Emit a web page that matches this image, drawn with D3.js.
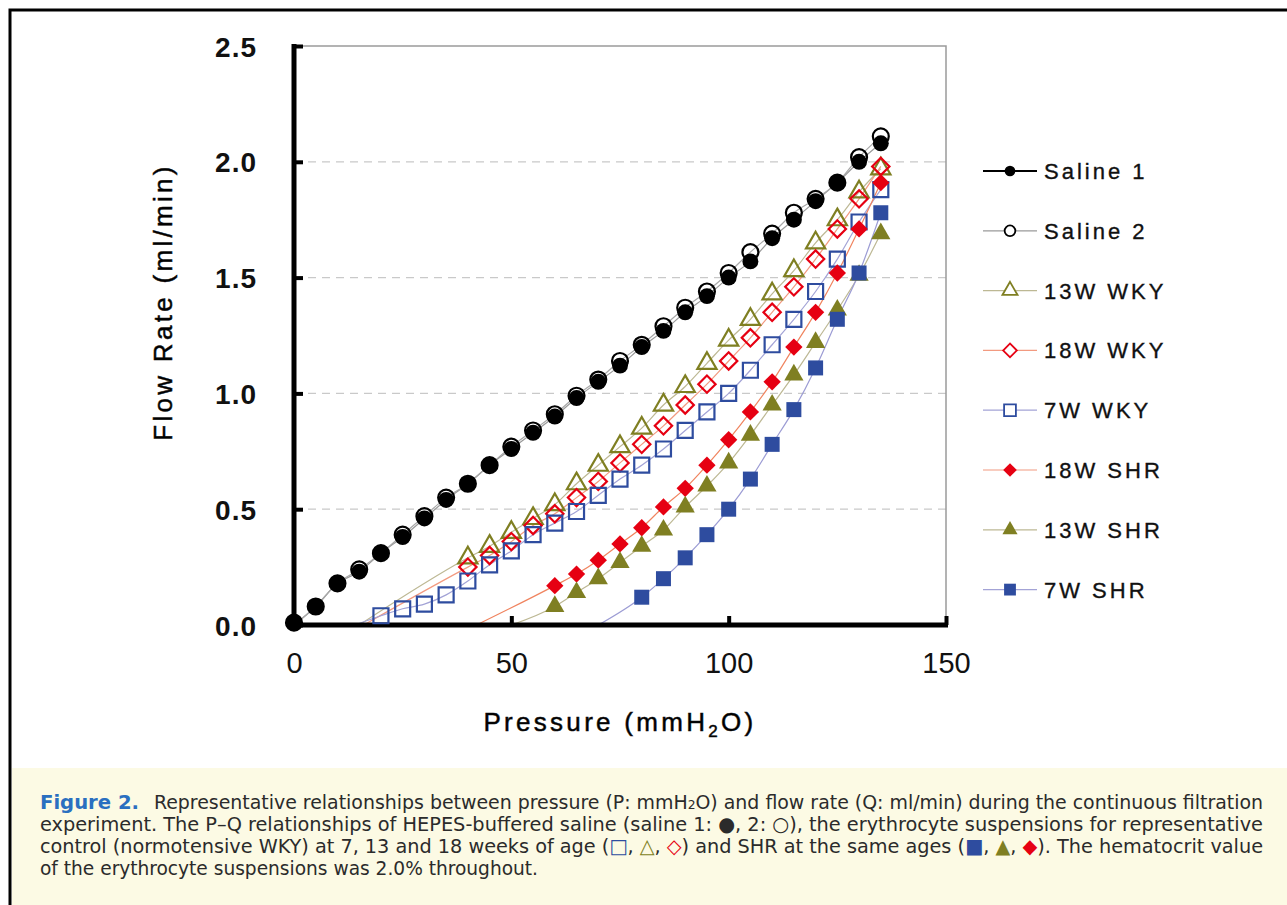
<!DOCTYPE html>
<html>
<head>
<meta charset="utf-8">
<script src="https://cdn.jsdelivr.net/npm/d3@7"></script>
<style>
  body { margin: 0; background: #fff; }
  svg { display: block; }
  .tick-y { font: bold 28px "Liberation Sans", Arial, sans-serif; letter-spacing: 1px; }
  .tick-x { font: 29px "Liberation Sans", Arial, sans-serif; }
  .axis-title { font: 26px "Liberation Sans", Arial, sans-serif; letter-spacing: 3.3px; stroke: #111; stroke-width: 0.5px; }
  .legend-text { font: 22px "Liberation Sans", Arial, sans-serif; letter-spacing: 3px; stroke: #111; stroke-width: 0.35px; }
  .caption { font: 20px "DejaVu Sans Condensed", "Liberation Sans Narrow", sans-serif; fill: #2b2b2b; }
</style>
</head>
<body>
<div id="chart"></div>
<script>
  const pressure = [0, 5, 10, 15, 20, 25, 30, 35, 40, 45, 50, 55, 60, 65, 70, 75, 80, 85, 90, 95, 100, 105, 110, 115, 120, 125, 130, 135];

  // flow rate, one value per pressure step starting at firstPressure
  const saline1 = [0.01, 0.08, 0.18, 0.23, 0.31, 0.38, 0.46, 0.54, 0.61, 0.69, 0.76, 0.83, 0.90, 0.98, 1.05, 1.12, 1.20, 1.27, 1.35, 1.42, 1.50, 1.57, 1.67, 1.75, 1.83, 1.91, 2.00, 2.08];
  const saline2 = [0.01, 0.08, 0.18, 0.24, 0.31, 0.39, 0.47, 0.55, 0.61, 0.69, 0.77, 0.84, 0.91, 0.99, 1.06, 1.14, 1.21, 1.29, 1.37, 1.44, 1.52, 1.61, 1.69, 1.78, 1.84, 1.91, 2.02, 2.11];
  const wky13 = [0.29, 0.34, 0.40, 0.46, 0.52, 0.61, 0.69, 0.77, 0.85, 0.95, 1.03, 1.13, 1.23, 1.32, 1.43, 1.53, 1.65, 1.75, 1.87, 1.97];
  const wky18 = [0.25, 0.30, 0.36, 0.43, 0.48, 0.55, 0.62, 0.70, 0.78, 0.86, 0.95, 1.04, 1.14, 1.24, 1.35, 1.46, 1.58, 1.71, 1.84, 1.98];
  const wky7 = [0.04, 0.07, 0.09, 0.13, 0.19, 0.26, 0.32, 0.39, 0.44, 0.49, 0.56, 0.63, 0.69, 0.76, 0.84, 0.92, 1.00, 1.10, 1.21, 1.32, 1.44, 1.58, 1.74, 1.88];
  const shr18 = [0.17, 0.22, 0.28, 0.35, 0.42, 0.51, 0.59, 0.69, 0.80, 0.92, 1.05, 1.20, 1.35, 1.52, 1.71, 1.91];
  const shr13 = [0.08, 0.14, 0.20, 0.27, 0.34, 0.41, 0.51, 0.60, 0.70, 0.82, 0.95, 1.08, 1.22, 1.36, 1.51, 1.69];
  const shr7 = [0.12, 0.20, 0.29, 0.39, 0.50, 0.63, 0.78, 0.93, 1.11, 1.32, 1.52, 1.78];

  const seriesNames = ["Saline 1", "Saline 2", "13W WKY", "18W WKY", "7W WKY", "18W SHR", "13W SHR", "7W SHR"];
  const seriesValues = [saline1, saline2, wky13, wky18, wky7, shr18, shr13, shr7];
  const firstPressure = [0, 0, 40, 40, 20, 60, 60, 80];
  // pressure where each recorded curve leaves the x axis
  const curveStart = [0, 0, 15, 16, 14, 42, 50, 70];

  const xTicks = [0, 50, 100, 150];
  const yTicks = [0, 0.5, 1.0, 1.5, 2.0, 2.5];

  const olive = "#7f7f22";
  const red = "#e60012";
  const blue = "#2e4c9f";
  const styles = [
    { shape: "circle", color: "#000", filled: true, line: "#9a9a9a", legendLine: "#000" },
    { shape: "circle", color: "#000", filled: false, line: "#a8a8a8", legendLine: "#9a9a9a" },
    { shape: "triangle", color: olive, filled: false, line: "#bdb894", legendLine: "#bdb894" },
    { shape: "diamond", color: red, filled: false, line: "#f29a80", legendLine: "#f29a80" },
    { shape: "square", color: blue, filled: false, line: "#a3a3d6", legendLine: "#a3a3d6" },
    { shape: "diamond", color: red, filled: true, line: "#f0845f", legendLine: "#f29a80" },
    { shape: "triangle", color: olive, filled: true, line: "#bdb894", legendLine: "#bdb894" },
    { shape: "square", color: blue, filled: true, line: "#9c9cd4", legendLine: "#a3a3d6" }
  ];

  const width = 1287;
  const height = 905;
  const plot = { left: 294, right: 946, top: 46, bottom: 625 };

  const x = d3.scaleLinear().domain([0, 150]).range([plot.left, plot.right]);
  const y = d3.scaleLinear().domain([0, 2.5]).range([plot.bottom, plot.top]);

  const series = seriesNames.map((name, i) => {
    const start = pressure.indexOf(firstPressure[i]);
    const points = seriesValues[i].map((v, j) => ({ p: pressure[start + j], q: v }));
    return { name, points, style: styles[i], curveStart: curveStart[i] };
  });

  const symbolType = { circle: d3.symbolCircle, square: d3.symbolSquare, triangle: d3.symbolTriangle, diamond: d3.symbolSquare };
  const symbolSize = { circle: 200, square: 225, triangle: 160, diamond: 150 };

  function symbolPath(shape, scale) {
    return d3.symbol().type(symbolType[shape]).size(symbolSize[shape] * scale)();
  }

  const svg = d3.select("#chart").append("svg")
    .attr("width", width)
    .attr("height", height);

  svg.append("rect").attr("width", width).attr("height", height).attr("fill", "#fff");

  // caption panel
  svg.append("rect")
    .attr("x", 12).attr("y", 768)
    .attr("width", width - 12).attr("height", height - 768)
    .attr("fill", "#fcfae4");

  svg.append("path")
    .attr("d", `M10,${height} V10 H${width}`)
    .attr("fill", "none")
    .attr("stroke", "#000")
    .attr("stroke-width", 3);

  // grid
  svg.append("g").selectAll("line")
    .data(yTicks.filter((t) => t > 0 && t < 2.5))
    .join("line")
    .attr("x1", plot.left).attr("x2", plot.right)
    .attr("y1", (d) => y(d)).attr("y2", (d) => y(d))
    .attr("stroke", "#c9c9c9")
    .attr("stroke-width", 1.3)
    .attr("stroke-dasharray", "8,6");

  // top and right frame
  svg.append("path")
    .attr("d", `M${plot.left},${plot.top} H${plot.right} V${plot.bottom}`)
    .attr("fill", "none")
    .attr("stroke", "#9a9a9a")
    .attr("stroke-width", 1.5);

  // recorded curves
  const line = d3.line()
    .x((d) => x(d.p))
    .y((d) => y(d.q))
    .curve(d3.curveMonotoneX);

  svg.append("g").selectAll("path")
    .data(series)
    .join("path")
    .attr("d", (s) => line([{ p: s.curveStart, q: 0 }].concat(s.points.filter((d) => d.p > s.curveStart))))
    .attr("fill", "none")
    .attr("stroke", (s) => s.style.line)
    .attr("stroke-width", 1.2);

  // axes
  const yAxis = d3.axisLeft(y).tickValues(yTicks).tickFormat(d3.format(".1f")).tickSize(-9).tickPadding(37);
  const gy = svg.append("g").attr("transform", `translate(${plot.left},0)`).call(yAxis);
  gy.select(".domain").attr("stroke", "#000").attr("stroke-width", 5)
    .attr("d", `M0,${plot.top - 2}V${plot.bottom + 2}`);
  gy.selectAll(".tick line").attr("stroke", "#000").attr("stroke-width", 4);
  gy.selectAll(".tick text").attr("class", "tick-y").attr("fill", "#111").attr("dy", "0.36em");

  const xAxis = d3.axisBottom(x).tickValues(xTicks).tickSize(-9).tickPadding(27);
  const gx = svg.append("g").attr("transform", `translate(0,${plot.bottom})`).call(xAxis);
  gx.select(".domain").attr("stroke", "#000").attr("stroke-width", 5)
    .attr("d", `M${plot.left - 2},0H${plot.right + 2}`);
  gx.selectAll(".tick line").attr("stroke", "#000").attr("stroke-width", 4);
  gx.selectAll(".tick text").attr("class", "tick-x").attr("fill", "#111");

  svg.append("text")
    .attr("class", "axis-title")
    .attr("transform", "translate(172,302) rotate(-90)")
    .attr("text-anchor", "middle")
    .text("Flow Rate (ml/min)");

  const xTitle = svg.append("text")
    .attr("class", "axis-title")
    .attr("x", 620).attr("y", 731)
    .attr("text-anchor", "middle");
  xTitle.append("tspan").text("Pressure (mmH");
  xTitle.append("tspan").attr("font-size", 17).attr("dy", 6).text("2");
  xTitle.append("tspan").attr("dy", -6).text("O)");

  // markers
  const markerGroups = svg.append("g").selectAll("g")
    .data(series)
    .join("g");

  markerGroups.selectAll("path")
    .data((s) => s.points.map((d) => ({ d, style: s.style })))
    .join("path")
    .attr("d", (m) => symbolPath(m.style.shape, 1))
    .attr("transform", (m) => `translate(${x(m.d.p)},${y(m.d.q)})${m.style.shape === "diamond" ? " rotate(45)" : ""}`)
    .attr("fill", (m) => (m.style.filled ? m.style.color : "none"))
    .attr("stroke", (m) => m.style.color)
    .attr("stroke-width", (m) => (m.style.filled ? 0 : 2.2));

  // legend
  const legend = svg.append("g").selectAll("g")
    .data(series)
    .join("g")
    .attr("transform", (s, i) => `translate(983,${171 + i * 59.8})`);

  legend.append("line")
    .attr("x1", 0).attr("x2", 54)
    .attr("stroke", (s) => s.style.legendLine)
    .attr("stroke-width", (s, i) => (i === 0 ? 2 : 1.2));

  legend.append("path")
    .attr("d", (s) => symbolPath(s.style.shape, s.style.shape === "circle" ? 0.45 : 0.62))
    .attr("transform", (s) => `translate(27,0)${s.style.shape === "diamond" ? " rotate(45)" : ""}`)
    .attr("fill", (s) => (s.style.filled ? s.style.color : "#fff"))
    .attr("stroke", (s) => s.style.color)
    .attr("stroke-width", (s) => (s.style.filled ? 0 : 1.8));

  legend.append("text")
    .attr("class", "legend-text")
    .attr("x", 61)
    .attr("dy", "0.36em")
    .attr("fill", "#111")
    .text((s) => s.name);

  // caption
  svg.append("text")
    .attr("x", 40).attr("y", 809)
    .attr("font-family", "'DejaVu Sans Condensed', 'Liberation Sans Narrow', sans-serif")
    .attr("font-weight", "bold")
    .attr("font-size", 20)
    .attr("fill", "#2a6fc0")
    .attr("textLength", 99)
    .attr("lengthAdjust", "spacingAndGlyphs")
    .text("Figure 2.");

  const captionLines = [
    { x: 154, y: 809, len: 1109, parts: [["Representative relationships between pressure (P: mmH"], ["2", null, 13], ["O) and flow rate (Q: ml/min) during the continuous filtration"]] },
    { x: 40, y: 831, len: 1223, parts: [["experiment. The P\u2013Q relationships of HEPES-buffered saline (saline 1: "], ["\u25cf"], [", 2: "], ["\u25cb"], ["), the erythrocyte suspensions for representative"]] },
    { x: 40, y: 853, len: 1223, parts: [["control (normotensive WKY) at 7, 13 and 18 weeks of age ("], ["\u25a1", blue], [", "], ["\u25b3", olive], [", "], ["\u25c7", red], [") and SHR at the same ages ("], ["\u25a0", blue], [", "], ["\u25b2", olive], [", "], ["\u25c6", red], ["). The hematocrit value"]] },
    { x: 40, y: 875, len: 498, parts: [["of the erythrocyte suspensions was 2.0% throughout."]] }
  ];

  captionLines.forEach((c) => {
    const t = svg.append("text")
      .attr("class", "caption")
      .attr("x", c.x).attr("y", c.y);
    if (c.len) {
      t.attr("textLength", c.len).attr("lengthAdjust", "spacingAndGlyphs");
    }
    c.parts.forEach(([str, color, size]) => {
      const span = t.append("tspan").text(str);
      if (color) span.attr("fill", color);
      if (size) span.attr("font-size", size);
    });
  });
</script>
</body>
</html>
